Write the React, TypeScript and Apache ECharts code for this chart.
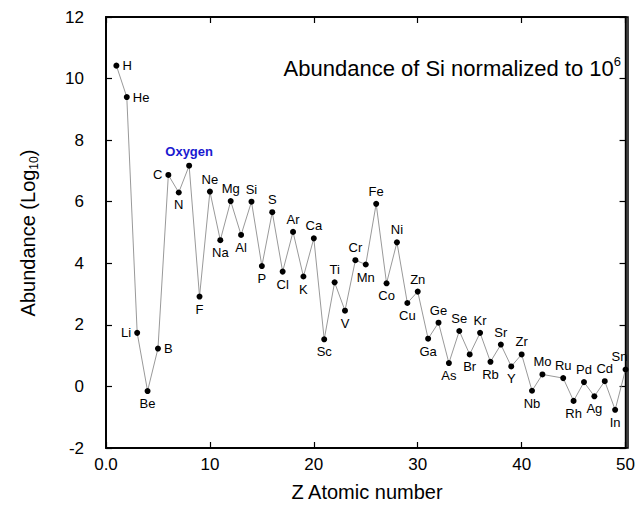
import React, { useEffect, useRef } from "react";
import * as echarts from "echarts";

const elements = ["H","He","Li","Be","B","C","N","O","F","Ne","Na","Mg","Al","Si","P","S","Cl","Ar","K","Ca","Sc","Ti","V","Cr","Mn","Fe","Co","Ni","Cu","Zn","Ga","Ge","As","Se","Br","Kr","Rb","Sr","Y","Zr","Nb","Mo","Ru","Rh","Pd","Ag","Cd","In","Sn"];
const atomicNumbers = [1,2,3,4,5,6,7,8,9,10,11,12,13,14,15,16,17,18,19,20,21,22,23,24,25,26,27,28,29,30,31,32,33,34,35,36,37,38,39,40,41,42,44,45,46,47,48,49,50];
const abundances = [10.42,9.40,1.74,-0.15,1.23,6.87,6.30,7.17,2.92,6.33,4.75,6.02,4.92,6.00,3.91,5.66,3.73,5.02,3.57,4.81,1.53,3.38,2.46,4.10,3.96,5.93,3.35,4.68,2.71,3.08,1.55,2.07,0.76,1.80,1.04,1.74,0.80,1.36,0.65,1.04,-0.14,0.39,0.27,-0.47,0.14,-0.32,0.17,-0.76,0.55];
const xTicks = [0, 10, 20, 30, 40, 50];
const yTicks = [-2, 0, 2, 4, 6, 8, 10, 12];

// label placement (style only)
const labelPlacement: Record<string, string> = {
  H: "right", He: "right", Li: "left", Be: "bottom", B: "right", C: "left", N: "bottom",
  O: "top", F: "bottom", Ne: "top", Na: "bottom", Mg: "top", Al: "bottom", Si: "top",
  P: "bottom", S: "top", Cl: "bottom", Ar: "top", K: "bottom", Ca: "top", Sc: "bottom",
  Ti: "top", V: "bottom", Cr: "top", Mn: "bottom", Fe: "top", Co: "bottom", Ni: "top",
  Cu: "bottom", Zn: "top", Ga: "bottom", Ge: "top", As: "bottom", Se: "top", Br: "bottom",
  Kr: "top", Rb: "bottom", Sr: "top", Y: "bottom", Zr: "top", Nb: "bottom", Mo: "top",
  Ru: "top", Rh: "bottom", Pd: "top", Ag: "bottom", Cd: "top", In: "bottom", Sn: "top",
};

const FONT = "Liberation Sans, Arial, sans-serif";

export default function App() {
  const ref = useRef<HTMLDivElement>(null);
  useEffect(() => {
    if (!ref.current) return;
    const chart = echarts.init(ref.current, undefined, { renderer: "svg" });
    const data = elements.map((el, i) => {
      const pos = labelPlacement[el] || "top";
      const item: any = {
        name: el,
        value: [atomicNumbers[i], abundances[i]],
        label: { position: pos },
      };
      if (el === "O") {
        item.label = {
          position: "top",
          formatter: "Oxygen",
          color: "#1a1ad0",
          fontWeight: "bold",
          distance: 5,
        };
      }
      if (el === "Sn") item.label = { position: "top", offset: [-6, 0] };
      return item;
    });
    chart.setOption({
      animation: false,
      grid: { left: 106, right: 10, top: 17, bottom: 65, show: true, borderColor: "#000", borderWidth: 1.5 },
      xAxis: [
        {
          type: "value", min: xTicks[0], max: xTicks[xTicks.length - 1], interval: 10,
          axisLine: { show: true, onZero: false, lineStyle: { color: "#000", width: 1.5 } },
          axisTick: { show: true, inside: true, length: 6, lineStyle: { color: "#000", width: 1.2 } },
          splitLine: { show: false },
          axisLabel: {
            fontSize: 17, color: "#000", fontFamily: FONT, margin: 8,
            formatter: (v: number) => (v === 0 ? "0.0" : String(v)),
          },
        },
        {
          type: "value", position: "top", min: xTicks[0], max: xTicks[xTicks.length - 1], interval: 10,
          axisLine: { show: true, onZero: false, lineStyle: { color: "#000", width: 1.5 } },
          axisTick: { show: true, inside: true, length: 6, lineStyle: { color: "#000", width: 1.2 } },
          splitLine: { show: false },
          axisLabel: { show: false },
        },
      ],
      yAxis: [
        {
          type: "value", min: yTicks[0], max: yTicks[yTicks.length - 1], interval: 2,
          axisLine: { show: true, onZero: false, lineStyle: { color: "#000", width: 1.5 } },
          axisTick: { show: true, inside: true, length: 6, lineStyle: { color: "#000", width: 1.2 } },
          splitLine: { show: false },
          axisLabel: { fontSize: 17, color: "#000", fontFamily: FONT, margin: 22 },
        },
        {
          type: "value", position: "right", min: yTicks[0], max: yTicks[yTicks.length - 1], interval: 2,
          axisLine: { show: true, onZero: false, lineStyle: { color: "#000", width: 1.5 } },
          axisTick: { show: true, inside: true, length: 6, lineStyle: { color: "#000", width: 1.2 } },
          splitLine: { show: false },
          axisLabel: { show: false },
        },
      ],
      graphic: [
        {
          type: "rect",
          z: 10,
          shape: { x: 106, y: 17, width: 522, height: 431 },
          style: { fill: "none", stroke: "#000", lineWidth: 1.5 },
          silent: true,
        },
        {
          type: "text",
          right: 17,
          top: 55,
          style: {
            text: "Abundance of Si normalized to 10{sup|6}",
            fontSize: 22,
            fontFamily: FONT,
            fill: "#000",
            lineHeight: 26,
            rich: {
              sup: { fontSize: 13, fontFamily: FONT, fill: "#000", verticalAlign: "top", lineHeight: 12 },
            },
          },
        },
        {
          type: "text",
          x: 367,
          y: 492,
          style: {
            text: "Z Atomic number",
            fontSize: 20,
            fontFamily: FONT,
            fill: "#000",
            textAlign: "center",
            textVerticalAlign: "middle",
          },
        },
        {
          type: "text",
          x: 28,
          y: 233,
          rotation: Math.PI / 2,
          style: {
            text: "Abundance (Log{sub|10})",
            fontSize: 20,
            fontFamily: FONT,
            fill: "#000",
            lineHeight: 24,
            textAlign: "center",
            textVerticalAlign: "middle",
            rich: {
              sub: { fontSize: 12, fontFamily: FONT, fill: "#000", verticalAlign: "bottom", lineHeight: 12 },
            },
          },
        },
      ],
      series: [
        {
          type: "line",
          data,
          xAxisIndex: 0,
          yAxisIndex: 0,
          symbol: "circle",
          symbolSize: 6,
          itemStyle: { color: "#000" },
          lineStyle: { color: "#999", width: 1 },
          label: {
            show: true,
            formatter: "{b}",
            fontSize: 13,
            fontFamily: FONT,
            color: "#000",
            distance: 3,
          },
          z: 3,
        },
      ],
    });
    return () => chart.dispose();
  }, []);
  return (
    <div
      ref={ref}
      style={{ position: "absolute", left: 0, top: 0, width: 638, height: 513 }}
    />
  );
}
